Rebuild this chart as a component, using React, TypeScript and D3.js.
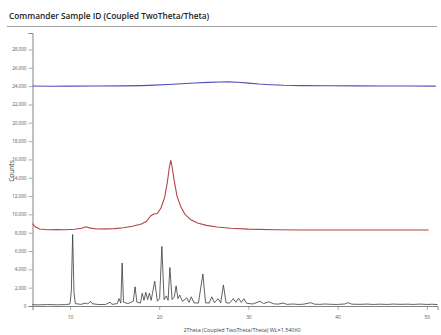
import React, { useRef, useEffect } from "react";
import * as d3 from "d3";

const title = "Commander Sample ID (Coupled TwoTheta/Theta)";
const xLabel = "2Theta (Coupled TwoTheta/Theta) WL=1.54060";
const yLabel = "Counts";

const xTicks = [10, 20, 30, 40, 50];
const yTicks = [0, 2000, 4000, 6000, 8000, 10000, 12000, 14000, 16000, 18000, 20000, 22000, 24000, 26000, 28000];

// [2theta, counts]
const blueScan: [number, number][] = [
  [5.8, 24020], [8, 23990], [10, 24000], [13, 24010], [16, 24030], [18, 24060], [19.5, 24110],
  [21, 24180], [22.5, 24260], [24, 24340], [25.5, 24410], [26.8, 24450], [27.7, 24460],
  [28.8, 24420], [30, 24330], [31.2, 24230], [32.5, 24150], [34, 24090], [36, 24060],
  [39, 24040], [42, 24030], [45, 24020], [48, 24010], [51, 24000],
];

const redScan: [number, number][] = [
  [5.8, 9000], [6.1, 8650], [6.6, 8400], [7.5, 8330], [8.5, 8350], [9.5, 8330], [10.5, 8380],
  [11.3, 8480], [11.8, 8650], [12.3, 8500], [13, 8400], [14, 8420], [15, 8450], [16, 8550],
  [17, 8700], [18, 8950], [18.6, 9250], [19.0, 9800], [19.4, 10050], [19.8, 10100],
  [20.2, 10700], [20.6, 11800], [20.9, 13400], [21.15, 15200], [21.3, 15900], [21.45, 15200],
  [21.7, 13600], [22.0, 12000], [22.4, 10900], [22.9, 10000], [23.5, 9450], [24.3, 9050],
  [25.3, 8800], [26.5, 8620], [28, 8480], [30, 8390], [33, 8330], [36, 8300], [40, 8300],
  [44, 8300], [47, 8290], [50.2, 8300],
];

const blackScan: [number, number][] = [
  [5.8, 150], [6.5, 120], [7.5, 160], [8.5, 130], [9.5, 150], [10.0, 220], [10.15, 1600],
  [10.3, 7800], [10.45, 1500], [10.6, 260], [11.2, 180], [11.8, 320], [12.0, 220], [12.3, 520],
  [12.5, 250], [13.2, 160], [14.0, 170], [14.5, 420], [14.7, 180], [15.3, 260], [15.5, 800],
  [15.7, 320], [15.85, 4700], [16.0, 420], [16.5, 260], [17.1, 520], [17.3, 2100], [17.5, 420],
  [17.9, 320], [18.1, 1400], [18.3, 620], [18.5, 1500], [18.7, 700], [18.9, 1400], [19.1, 620],
  [19.5, 2700], [19.8, 520], [20.05, 820], [20.3, 6500], [20.55, 700], [20.8, 1100], [21.0, 620],
  [21.2, 4200], [21.45, 700], [21.7, 1000], [21.9, 2200], [22.1, 820], [22.3, 1200], [22.6, 500],
  [23.1, 900], [23.35, 400], [23.6, 1000], [23.9, 350], [24.4, 320], [24.9, 3500], [25.2, 350],
  [25.6, 320], [25.9, 1000], [26.2, 350], [26.6, 800], [26.9, 350], [27.2, 2300], [27.5, 350],
  [27.9, 320], [28.3, 800], [28.6, 400], [28.9, 850], [29.2, 400], [29.5, 800], [29.8, 300],
  [30.5, 220], [31.3, 520], [31.7, 260], [32.3, 460], [32.8, 250], [33.3, 200], [33.9, 320],
  [34.3, 180], [35.0, 220], [35.6, 170], [36.2, 200], [37.0, 360], [37.4, 200], [38.0, 180],
  [38.6, 220], [39.3, 180], [40.0, 170], [40.8, 220], [41.2, 360], [41.6, 200], [42.5, 180],
  [43.3, 210], [44, 170], [44.8, 200], [45.5, 170], [46.3, 210], [47, 180], [47.8, 200],
  [48.5, 170], [49.2, 210], [50, 170], [50.6, 190], [51.2, 160],
];

const W = 441;
const H = 335;

const App = () => {
  const ref = useRef<SVGSVGElement>(null);

  useEffect(() => {
    if (!ref.current) return;
    const svg = d3.select(ref.current);
    svg.selectAll("*").remove();

    const x = d3.scaleLinear().domain([5.8, 51.2]).range([32.5, 437.5]);
    const y = d3.scaleLinear().domain([0, 29800]).range([306, 33]);
    const font = "'Open Sans', 'DejaVu Sans', sans-serif";

    // title + rule
    svg.append("text")
      .attr("x", 9).attr("y", 19)
      .attr("font-family", font).attr("font-size", 8.3).attr("font-weight", 600)
      .attr("fill", "#222")
      .text(title);
    svg.append("line")
      .attr("x1", 7).attr("x2", 437).attr("y1", 26.5).attr("y2", 26.5)
      .attr("stroke", "#888").attr("stroke-width", 0.8);

    // y axis
    const yAxis = svg.append("g").attr("transform", `translate(${x(5.8)},0)`);
    yAxis.call(
      d3.axisLeft(y).tickValues(d3.range(0, 29800, 500)).tickSize(2).tickFormat(() => "")
    );
    yAxis.call(
      d3.axisLeft(y).tickValues(yTicks).tickSize(4).tickPadding(2)
        .tickFormat((d) => d3.format(",")(d as number))
    );
    yAxis.selectAll("path").attr("stroke", "#666").attr("stroke-width", 0.8);
    yAxis.selectAll("line").attr("stroke", "#777").attr("stroke-width", 0.6);
    yAxis.selectAll("text").attr("font-size", 4.6).attr("fill", "#555").attr("font-family", font);

    // x axis
    const xAxis = svg.append("g").attr("transform", `translate(0,${y(0)})`);
    xAxis.call(
      d3.axisBottom(x).tickValues(d3.range(6, 51.5, 1)).tickSize(2).tickFormat(() => "")
    );
    xAxis.call(
      d3.axisBottom(x).tickValues(xTicks).tickSize(4).tickPadding(6)
        .tickFormat((d) => String(d))
    );
    xAxis.selectAll("path").attr("stroke", "#666").attr("stroke-width", 0.8);
    xAxis.selectAll("line").attr("stroke", "#777").attr("stroke-width", 0.6);
    xAxis.selectAll("text").attr("font-size", 4.8).attr("fill", "#555").attr("font-family", font);

    // axis labels
    svg.append("text")
      .attr("x", 242).attr("y", 332)
      .attr("text-anchor", "middle")
      .attr("font-family", font).attr("font-size", 5.4).attr("fill", "#444")
      .text(xLabel);
    svg.append("text")
      .attr("transform", "translate(14,171) rotate(-90)")
      .attr("text-anchor", "middle")
      .attr("font-family", font).attr("font-size", 6.6).attr("fill", "#444")
      .text(yLabel);

    const line = d3.line<[number, number]>()
      .x((d) => x(d[0]))
      .y((d) => y(d[1]));

    const series: [[number, number][], string, number][] = [
      [blueScan, "#4f4fb8", 1.1],
      [redScan, "#b24444", 1.1],
      [blackScan, "#3a3a3a", 0.8],
    ];
    series.forEach(([data, color, w]) => {
      svg.append("path")
        .datum(data)
        .attr("fill", "none")
        .attr("stroke", color)
        .attr("stroke-width", w)
        .attr("stroke-linejoin", "round")
        .attr("d", line);
    });
  }, []);

  return (
    <svg
      ref={ref}
      width={W}
      height={H}
      style={{ position: "absolute", left: 0, top: 0, background: "#fff" }}
    />
  );
};

export default App;
